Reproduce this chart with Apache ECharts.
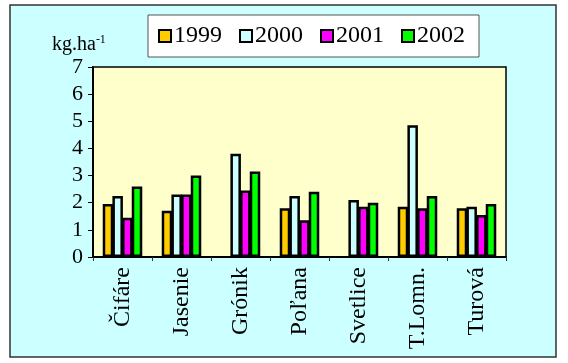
<!DOCTYPE html>
<html>
<head>
<meta charset="utf-8">
<script src="https://cdn.jsdelivr.net/npm/echarts@6/dist/echarts.min.js"></script>
<style>
  html, body { margin: 0; padding: 0; background: #ffffff; }
  #chart { width: 568px; height: 363px; }
</style>
</head>
<body>
<div id="chart"></div>
<script>
// Sites along the category axis
const sites = ['Čifáre', 'Jasenie', 'Grónik', 'Poľana', 'Svetlice', 'T.Lomn.', 'Turová'];

// Yearly values in kg.ha-1 (null = no measurement that year)
const y1999 = [1.95, 1.70, null, 1.80, null, 1.85, 1.80];
const y2000 = [2.25, 2.30, 3.80, 2.25, 2.10, 4.85, 1.85];
const y2001 = [1.45, 2.30, 2.45, 1.35, 1.85, 1.80, 1.55];
const y2002 = [2.60, 3.00, 3.15, 2.40, 2.00, 2.25, 1.95];

const years = ['1999', '2000', '2001', '2002'];
const yearColors = ['#FFCC00', '#CCFFFF', '#FF00FF', '#00FF00'];
const yearValues = [y1999, y2000, y2001, y2002];

const yTicks = { min: 0, max: 7, interval: 1 };

const serif = '"Liberation Serif", "Times New Roman", serif';

const chart = echarts.init(document.getElementById('chart'), null, { renderer: 'canvas' });

const series = years.map((name, i) => ({
  name: name,
  type: 'bar',
  data: yearValues[i],
  barGap: '-8%',
  barCategoryGap: '33%',
  itemStyle: {
    color: yearColors[i],
    borderColor: '#000000',
    borderWidth: 2.5
  }
}));

chart.setOption({
  animation: false,
  backgroundColor: '#ffffff',
  graphic: [
    {
      type: 'rect',
      z: -10,
      shape: { x: 10, y: 5, width: 546, height: 352 },
      style: { fill: '#CCFFFF', stroke: '#333333', lineWidth: 1.5 }
    },
    {
      type: 'text',
      left: 52,
      top: 34,
      style: {
        text: 'kg.ha{sup|-1}',
        font: '20px ' + serif,
        fill: '#000000',
        rich: {
          sup: { fontSize: 12, fontFamily: serif, verticalAlign: 'top', padding: [0, 0, 10, 0] }
        }
      }
    }
  ],
  legend: {
    data: years,
    left: 148,
    top: 15,
    icon: 'rect',
    itemWidth: 12,
    itemHeight: 12,
    itemGap: 17,
    padding: [9, 14, 9, 10],
    backgroundColor: '#ffffff',
    borderColor: '#555555',
    borderWidth: 1,
    textStyle: { fontFamily: serif, fontSize: 24, color: '#000000', padding: [0, 0, 0, -2] }
  },
  grid: {
    left: 93,
    right: 62,
    top: 67,
    bottom: 106,
    show: true,
    backgroundColor: '#FFFFCC',
    borderColor: '#000000',
    borderWidth: 1.5
  },
  xAxis: {
    type: 'category',
    data: sites,
    axisLine: { lineStyle: { color: '#000000', width: 2 } },
    axisTick: { show: true, length: 4, lineStyle: { color: '#333333' } },
    axisLabel: {
      rotate: 90,
      margin: 10,
      fontFamily: serif,
      fontSize: 24,
      color: '#000000'
    }
  },
  yAxis: {
    type: 'value',
    min: yTicks.min,
    max: yTicks.max,
    interval: yTicks.interval,
    splitLine: { show: false },
    axisLine: { show: true, lineStyle: { color: '#000000', width: 2 } },
    axisTick: { show: true, length: 5, lineStyle: { color: '#000000' } },
    axisLabel: {
      margin: 10,
      fontFamily: serif,
      fontSize: 22,
      color: '#000000'
    }
  },
  series: series
});
</script>
</body>
</html>
